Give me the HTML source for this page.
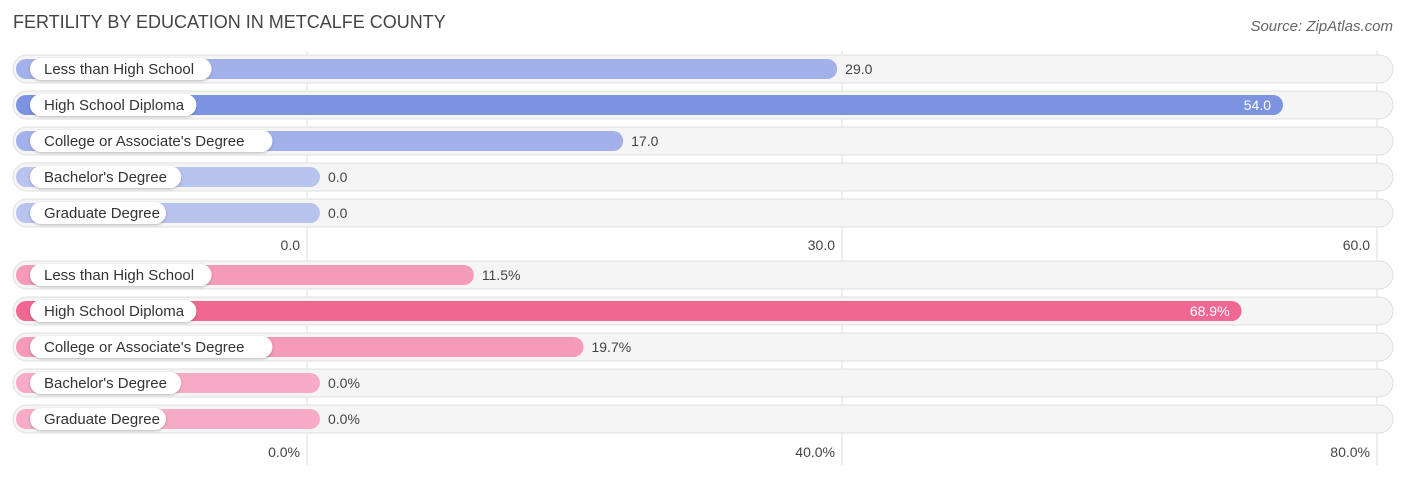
<!DOCTYPE html>
<html><head><meta charset="utf-8"><style>
body{margin:0;background:#fff;width:1406px;height:475px;overflow:hidden;font-family:"Liberation Sans",Arial,sans-serif}
</style></head><body>
<svg id="c" width="1406" height="475" xmlns="http://www.w3.org/2000/svg">
<defs><filter id="sh" x="-10%" y="-30%" width="120%" height="160%"><feDropShadow dx="0" dy="1" stdDeviation="1.2" flood-color="#000" flood-opacity="0.25"/></filter></defs>
<text x="13" y="28" font-size="18" fill="#444">FERTILITY BY EDUCATION IN METCALFE COUNTY</text>
<text x="1393" y="31" font-size="15" fill="#666" font-style="italic" text-anchor="end">Source: ZipAtlas.com</text>
</svg>
<script>
const categories=["Less than High School","High School Diploma","College or Associate's Degree","Bachelor's Degree","Graduate Degree"];
const topValues=[29.0,54.0,17.0,0.0,0.0];
const bottomValues=[11.5,68.9,19.7,0.0,0.0];
const topTicks=[0,30,60];
const bottomTicks=[0,40,80];
const NS="http://www.w3.org/2000/svg";
const svg=document.getElementById('c');
function mk(t,a,p){const e=document.createElementNS(NS,t);for(const k in a)e.setAttribute(k,a[k]);(p||svg).appendChild(e);return e;}
function panel(vals,ticks,max,y0,tickY,suffix,cMax,cMid,cZero,name){
  const x0=307,x1=1377;
  const sx=v=>x0+(v/max)*(x1-x0);
  const g=mk('g',{});
  
  
  ticks.forEach(t=>{
    const l=mk('line',{x1:sx(t),x2:sx(t),y1:y0-18,y2:tickY+8,stroke:'#ddd','stroke-width':1},g);
    
    
  });
  const mx=Math.max(...vals);
  vals.forEach((v,i)=>{
    const cy=y0+i*36;
    const bg=mk('rect',{x:13,y:cy-14,width:1380,height:28,rx:14,fill:'#f5f5f5',stroke:'#e0e0e0','stroke-width':1},g);
    
    
    const end=sx(v)+13;
    const col=v===mx?cMax:(v===0?cZero:cMid);
    const b=mk('rect',{x:16,y:cy-10,width:end-16,height:20,rx:10,fill:col},g);
    
    
    const lbl=categories[i];
    const w=lbl.length*7.6+22;
    const p=mk('rect',{x:30,y:cy-11,width:w,height:22,rx:11,fill:'#fff',filter:'url(#sh)'},g);
    
    
    const t=mk('text',{x:44,y:cy+5,'font-size':15,fill:'#333'},g);
    t.textContent=lbl;
    
    
    const inside=v===mx;
    const vt=mk('text',{x:inside?end-12:end+8,y:cy+5,'font-size':14,fill:inside?'#fff':'#444','text-anchor':inside?'end':'start'},g);
    vt.textContent=v.toFixed(1)+suffix;
    
    
  });
  ticks.forEach(t=>{
    const tt=mk('text',{x:sx(t)-7,y:tickY,'font-size':14,fill:'#444','text-anchor':'end'},g);
    tt.textContent=t.toFixed(1)+suffix;
    
    
  });
}
panel(topValues,topTicks,60,69,250,'','#7b93e0','#a3b1ea','#b8c3ee','top-chart');
panel(bottomValues,bottomTicks,80,275,457,'%','#f06892','#f59ab8','#f7abc6','bottom-chart');
</script>
</body></html>
